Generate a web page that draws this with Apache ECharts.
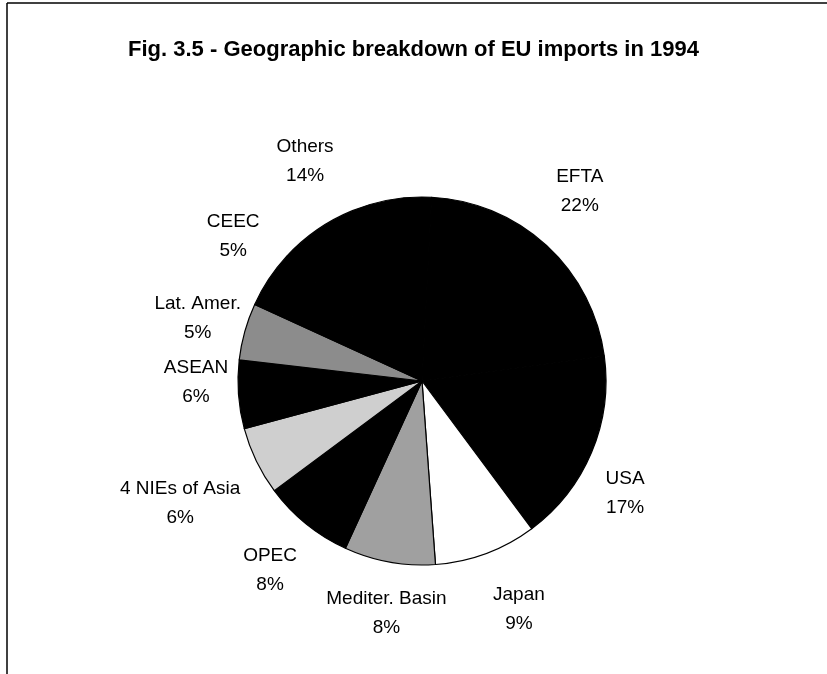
<!DOCTYPE html>
<html>
<head>
<meta charset="utf-8">
<script src="https://cdn.jsdelivr.net/npm/echarts@6/dist/echarts.min.js"></script>
<style>
html,body{margin:0;padding:0;background:#fff;}
#c{width:827px;height:674px;}
</style>
</head>
<body>
<div id="c"></div>
<script>
// ---- data ----
var categories = ['EFTA', 'USA', 'Japan', 'Mediter. Basin', 'OPEC', '4 NIEs of Asia', 'ASEAN', 'Lat. Amer.', 'CEEC', 'Others'];
var shares = [22, 17, 9, 8, 8, 6, 6, 5, 5, 14];
var titleText = 'Fig. 3.5 - Geographic breakdown of EU imports in 1994';

// ---- styling / layout ----
var sliceColors = ['#000000', '#000000', '#ffffff', '#a0a0a0', '#000000', '#cfcfcf', '#000000', '#8c8c8c', '#000000', '#000000'];
var CX = 422, CY = 381, R = 184, START = 87;
// label placement relative to slice mid-angle: radial distance (px) and angular shift (deg)
var labelDist = [247, 232, 248, 235, 243, 271, 226, 233, 238, 249];
var labelShift = [2.9, -6.1, 2.6, 1.5, 0.3, 1.0, -3.9, -0.1, -3.9, 5.8];

var total = shares.reduce(function (a, b) { return a + b; }, 0);
var midAngles = [];
(function () {
  var cum = 0;
  for (var i = 0; i < shares.length; i++) {
    var a0 = START - cum / total * 360;
    cum += shares[i];
    var a1 = START - cum / total * 360;
    midAngles.push((a0 + a1) / 2);
  }
})();

var chart = echarts.init(document.getElementById('c'), null, { renderer: 'canvas' });
var font = '"Liberation Sans", Arial, Helvetica, sans-serif';

chart.setOption({
  backgroundColor: '#ffffff',
  animation: false,
  title: {
    text: titleText,
    left: 'center',
    top: 34,
    textStyle: { fontFamily: font, fontWeight: 'bold', fontSize: 22, color: '#000' }
  },
  graphic: [
    { type: 'line', shape: { x1: 7, y1: 3, x2: 827, y2: 3 }, style: { stroke: '#000', lineWidth: 1.5 } },
    { type: 'line', shape: { x1: 7, y1: 3, x2: 7, y2: 674 }, style: { stroke: '#000', lineWidth: 1.5 } }
  ],
  series: [{
    type: 'pie',
    center: [CX, CY],
    radius: R,
    startAngle: START,
    clockwise: true,
    avoidLabelOverlap: false,
    data: categories.map(function (n, i) {
      return { name: n, value: shares[i], itemStyle: { color: sliceColors[i] } };
    }),
    itemStyle: { borderColor: '#000', borderWidth: 1.2 },
    label: {
      show: true,
      position: 'outside',
      formatter: '{b}\n{c}%',
      fontFamily: font,
      fontSize: 19,
      lineHeight: 29,
      color: '#000',
      align: 'center'
    },
    labelLine: { show: false },
    labelLayout: function (p) {
      var i = p.dataIndex;
      var ang = (midAngles[i] + labelShift[i]) * Math.PI / 180;
      return {
        x: CX + labelDist[i] * Math.cos(ang),
        y: CY - labelDist[i] * Math.sin(ang),
        align: 'center',
        verticalAlign: 'middle'
      };
    },
    emphasis: { disabled: true }
  }]
});
</script>
</body>
</html>
